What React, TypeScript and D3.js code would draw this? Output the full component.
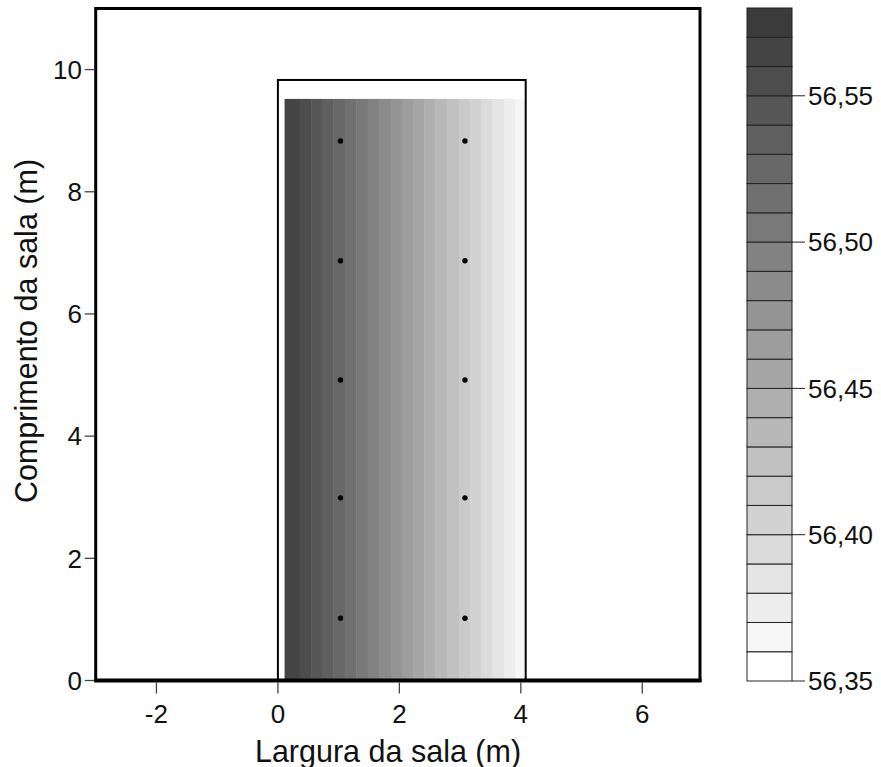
import React from "react";
import * as d3 from "d3";

const contourLevels = [56.56, 56.55, 56.54, 56.53, 56.52, 56.51, 56.5, 56.49, 56.48, 56.47,
  56.46, 56.45, 56.44, 56.43, 56.42, 56.41, 56.4, 56.39, 56.38, 56.37];
const contourX = [0.36, 0.55, 0.72, 0.91, 1.1, 1.29, 1.48, 1.66, 1.86, 2.04,
  2.22, 2.41, 2.59, 2.78, 2.98, 3.16, 3.35, 3.53, 3.72, 3.91];
const fieldEdgeX = [0.11, 4.08];
const fieldEdgeValue = [56.567, 56.362];
const fieldTop = 9.52;

const room = { x0: 0, x1: 4.08, y0: 0, y1: 9.83 };

const lampX = [1.03, 3.08];
const lampY = [1.02, 2.99, 4.92, 6.87, 8.83];

const xTicks = [-2, 0, 2, 4, 6];
const yTicks = [0, 2, 4, 6, 8, 10];
const bandEdges = [56.35, 56.36, 56.37, 56.38, 56.39, 56.4, 56.41, 56.42, 56.43, 56.44, 56.45, 56.46,
  56.47, 56.48, 56.49, 56.5, 56.51, 56.52, 56.53, 56.54, 56.55, 56.56, 56.57, 56.58];
const colorTicks = [56.35, 56.4, 56.45, 56.5, 56.55];

const W = 881;
const H = 767;
const font = "'Liberation Sans', Arial, sans-serif";

const x = d3.scaleLinear().domain([-3, 6.95]).range([95.7, 700]);
const y = d3.scaleLinear().domain([0, 11]).range([680.5, 8.5]);
const cb = d3.scaleLinear().domain([56.35, 56.58]).range([681, 8]);

const nBands = bandEdges.length - 1;
const gray = d3.scaleLinear<string>().domain([0, nBands - 1]).range(["#ffffff", "#3b3b3b"]);
const bandColors = d3.range(nBands).map(i => gray(i));
const bandColor = d3.scaleThreshold<number, string>()
  .domain(bandEdges.slice(1, -1))
  .range(bandColors);

// piecewise-linear field along x, built from the read crossings
const fieldX = [fieldEdgeX[0], ...contourX, fieldEdgeX[1]];
const fieldV = [fieldEdgeValue[0], ...contourLevels, fieldEdgeValue[1]];
const field = d3.scaleLinear().domain(fieldX).range(fieldV);

const fmt = (v: number) => v.toFixed(2).replace(".", ",");

export default function App() {
  const stripes = d3.pairs(fieldX).map(([a, b]) => ({
    a, b, color: bandColor(field((a + b) / 2)),
  }));
  const lamps = lampY.flatMap(ly => lampX.map(lx => ({ lx, ly })));

  return (
    <svg width={W} height={H} style={{ position: "absolute", left: 0, top: 0, background: "#fff" }}
      fontFamily={font}>
      {/* field */}
      <rect x={x(room.x0)} y={y(room.y1)} width={x(room.x1) - x(room.x0)} height={y(room.y0) - y(room.y1)}
        fill="#fff" />
      {stripes.map((s, i) => (
        <rect key={i} x={x(s.a)} y={y(fieldTop)} width={x(s.b) - x(s.a) + 0.5}
          height={y(0) - y(fieldTop)} fill={s.color} />
      ))}
      <rect x={x(room.x0)} y={y(room.y1)} width={x(room.x1) - x(room.x0)} height={y(room.y0) - y(room.y1)}
        fill="none" stroke="#000" strokeWidth={2} />
      {lamps.map((p, i) => (
        <circle key={i} cx={x(p.lx)} cy={y(p.ly)} r={2.7} fill="#000" />
      ))}

      {/* frame */}
      <rect x={x(-3)} y={y(11)} width={x(6.95) - x(-3)} height={y(0) - y(11)}
        fill="none" stroke="#000" strokeWidth={3} />
      <line x1={x(-3) - 1.5} x2={x(6.95) + 1.5} y1={y(0)} y2={y(0)} stroke="#000" strokeWidth={4} />

      {/* x axis */}
      {xTicks.map(t => (
        <g key={t}>
          <line x1={x(t)} x2={x(t)} y1={y(0) + 2} y2={y(0) + 13} stroke="#444" strokeWidth={1.3} />
          <text x={x(t)} y={723} textAnchor="middle" fontSize={26} fill="#111">{t}</text>
        </g>
      ))}
      <text x={388} y={762} textAnchor="middle" fontSize={30.5} fill="#111">Largura da sala (m)</text>

      {/* y axis */}
      {yTicks.map(t => (
        <g key={t}>
          <line x1={x(-3) - 1.5} x2={x(-3) - 11} y1={y(t)} y2={y(t)} stroke="#444" strokeWidth={1.3} />
          <text x={82} y={y(t)} dy="0.36em" textAnchor="end" fontSize={26} fill="#111">{t}</text>
        </g>
      ))}
      <text transform={`translate(37,331) rotate(-90)`} textAnchor="middle" fontSize={30.5} fill="#111">
        Comprimento da sala (m)
      </text>

      {/* colour bar */}
      {d3.pairs(bandEdges).map(([a, b], i) => (
        <rect key={i} x={747} y={cb(b)} width={45} height={cb(a) - cb(b)}
          fill={bandColors[i]} stroke="#222" strokeWidth={1} />
      ))}
      {colorTicks.map(t => (
        <g key={t}>
          <line x1={792} x2={805} y1={cb(t)} y2={cb(t)} stroke="#222" strokeWidth={1} />
          <text x={808} y={cb(t)} dy="0.36em" fontSize={26} fill="#111">{fmt(t)}</text>
        </g>
      ))}
    </svg>
  );
}
